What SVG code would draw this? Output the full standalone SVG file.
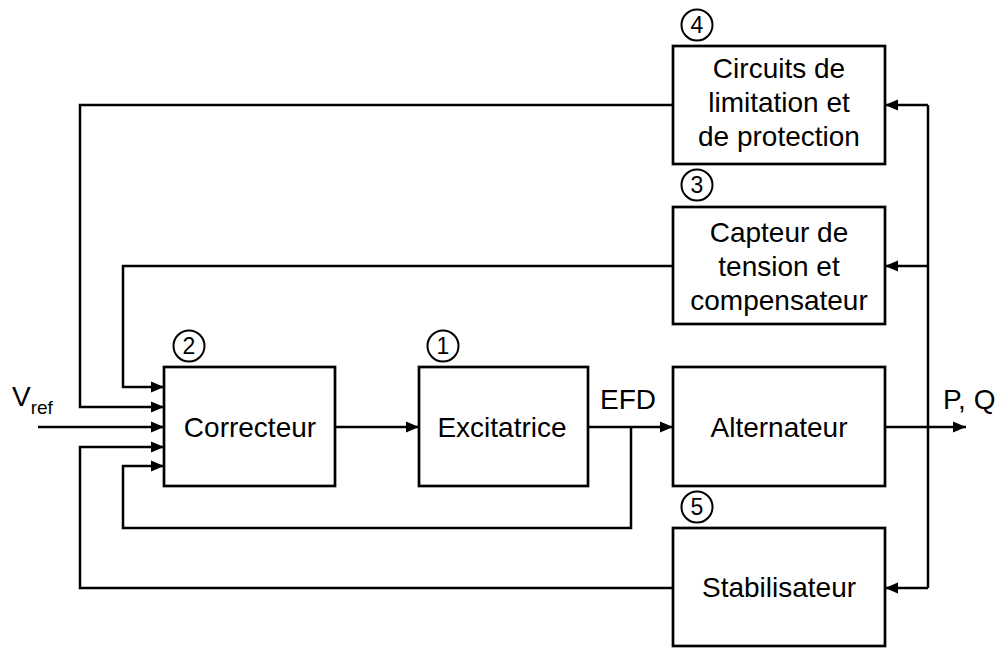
<svg xmlns="http://www.w3.org/2000/svg" width="1005" height="648" viewBox="0 0 1005 648">
<style>
.box{fill:#fff;stroke:#000;stroke-width:2.7}
.lbl{font-family:"Liberation Sans",Arial,sans-serif;font-size:28px;fill:#000;text-anchor:middle}
.num{font-family:"Liberation Sans",Arial,sans-serif;font-size:23px;fill:#000;text-anchor:middle}
.circ{fill:none;stroke:#000;stroke-width:2}
.wire{fill:none;stroke:#000;stroke-width:2.5}
.free{font-family:"Liberation Sans",Arial,sans-serif;font-size:28px;fill:#000}
</style>
<defs>
<marker id="arr" markerUnits="userSpaceOnUse" markerWidth="14" markerHeight="12" refX="13" refY="6" orient="auto">
<path d="M0,0.5 L13,6 L0,11.5 z" fill="#000"/>
</marker>
</defs>
<rect width="1005" height="648" fill="#fff"/>
<g id="connectors">
<path class="wire" d="M335,427 H419" marker-end="url(#arr)"/>
<path class="wire" d="M588,427 H673" marker-end="url(#arr)"/>
<path class="wire" d="M885,427 H966" marker-end="url(#arr)"/>
<path class="wire" d="M928,105 V588"/>
<path class="wire" d="M928,105 H885" marker-end="url(#arr)"/>
<path class="wire" d="M928,266 H885" marker-end="url(#arr)"/>
<path class="wire" d="M928,588 H885" marker-end="url(#arr)"/>
<path class="wire" d="M673,105 H80 V407 H164" marker-end="url(#arr)"/>
<path class="wire" d="M673,266 H123 V387 H164" marker-end="url(#arr)"/>
<path class="wire" d="M38,427 H164" marker-end="url(#arr)"/>
<path class="wire" d="M673,588 H80 V447 H164" marker-end="url(#arr)"/>
<path class="wire" d="M631,427 V528 H123 V466 H164" marker-end="url(#arr)"/>
</g>
<g id="vref">
<text class="free" x="12" y="406">V<tspan font-size="19" dy="8">ref</tspan></text>
</g>
<g id="efd"><text class="free" x="600" y="409">EFD</text></g>
<g id="pq"><text class="free" x="943" y="409">P, Q</text></g>
<g id="correcteur">
<rect class="box" x="164" y="367" width="171" height="119"/>
<text class="lbl" x="250" y="437">Correcteur</text>
<circle class="circ" cx="189" cy="346" r="15.5"/>
<text class="num" x="189" y="354.2">2</text>
</g>
<g id="excitatrice">
<rect class="box" x="419" y="367" width="169" height="119"/>
<text class="lbl" x="502" y="437">Excitatrice</text>
<circle class="circ" cx="443" cy="346" r="15.5"/>
<text class="num" x="443" y="354.2">1</text>
</g>
<g id="alternateur">
<rect class="box" x="673" y="367" width="212" height="119"/>
<text class="lbl" x="779" y="437">Alternateur</text>
</g>
<g id="circuits">
<rect class="box" x="673" y="46" width="212" height="118"/>
<text class="lbl" x="779" y="78">Circuits de</text>
<text class="lbl" x="779" y="112">limitation et</text>
<text class="lbl" x="779" y="146">de protection</text>
<circle class="circ" cx="697" cy="25" r="15.5"/>
<text class="num" x="697" y="33.2">4</text>
</g>
<g id="capteur">
<rect class="box" x="673" y="207" width="212" height="117"/>
<text class="lbl" x="779" y="242">Capteur de</text>
<text class="lbl" x="779" y="276">tension et</text>
<text class="lbl" x="779" y="310">compensateur</text>
<circle class="circ" cx="697" cy="185" r="15.5"/>
<text class="num" x="697" y="193.2">3</text>
</g>
<g id="stabilisateur">
<rect class="box" x="673" y="528" width="212" height="118"/>
<text class="lbl" x="779" y="597">Stabilisateur</text>
<circle class="circ" cx="697" cy="507" r="15.5"/>
<text class="num" x="697" y="515.2">5</text>
</g>
</svg>
